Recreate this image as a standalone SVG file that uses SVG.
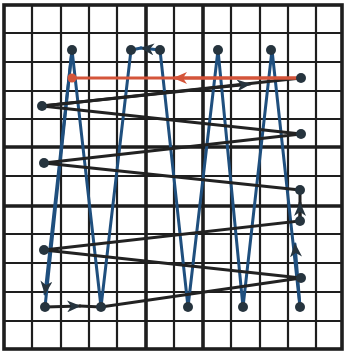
<svg xmlns="http://www.w3.org/2000/svg" width="346" height="351" viewBox="0 0 346 351">
<style>
.g{stroke:#1e1e1e;stroke-width:2.2;fill:none}
.gt{stroke:#1e1e1e;stroke-width:3.6;fill:none}
.bl{stroke:#1f4f7e;stroke-width:3;fill:none;stroke-linecap:round}
.bk{stroke:#222;stroke-width:3;fill:none;stroke-linecap:round}
.rd{stroke:#d4553a;stroke-width:2.8;fill:none}
.dot{fill:#26343e}
.rdot{fill:#d4553a}
</style>
<defs>
<marker id="ab" viewBox="0 0 14 12" refX="13" refY="6" markerWidth="14" markerHeight="12" markerUnits="userSpaceOnUse" orient="auto"><path d="M0,0 L14,6 L0,12 L4,6 z" fill="#26343e"/></marker>
<marker id="ar" viewBox="0 0 14 12" refX="13" refY="6" markerWidth="14" markerHeight="12" markerUnits="userSpaceOnUse" orient="auto"><path d="M0,0 L14,6 L0,12 L4,6 z" fill="#d4553a"/></marker>
</defs>
<rect width="346" height="351" fill="#fff"/>
<g id="grid">
<path class="g" d="M32,5V349M61,5V349M89,5V349M117,5V349M174,5V349M231,5V349M260,5V349M288,5V349M316,5V349"/>
<path class="g" d="M4,33H342M4,62H342M4,91H342M4,119H342M4,176H342M4,234H342M4,263H342M4,292H342M4,321H342"/>
<path class="gt" d="M146,5V349M203,5V349M4,147H342M4,206H342"/>
<rect class="gt" x="4" y="5" width="338" height="344"/>
</g>
<g id="connectors">
<path class="bl" d="M300,307L272,50L243,307L218,50L188,307L160,50"/>
<path class="bl" d="M300,307L295,244" marker-end="url(#ab)"/>
<path class="bl" d="M160,50L141,48" marker-end="url(#ab)"/>
<path class="bl" d="M141,48L131,50L101,307L72,50L45,307"/>
<path class="bl" d="M72,50L45,294" marker-end="url(#ab)"/>
<path class="bk" d="M45,307L80,306" marker-end="url(#ab)"/>
<path class="bk" d="M80,306L101,307L301,278L44,250L300,221L300,190"/>
<path class="bk" d="M300,221L300,203" marker-end="url(#ab)"/>
<path class="bk" d="M300,190L44,163L301,134L42,106L301,78"/>
<path class="bk" d="M42,106L250,84" marker-end="url(#ab)"/>
<path class="rd" d="M301,78L72,78"/>
<path class="rd" d="M301,78L174,78" marker-end="url(#ar)"/>
</g>
<g id="p1"><circle class="dot" cx="72" cy="50" r="5"/></g>
<g id="p2"><circle class="dot" cx="131" cy="50" r="5"/></g>
<g id="p3"><circle class="dot" cx="160" cy="50" r="5"/></g>
<g id="p4"><circle class="dot" cx="218" cy="50" r="5"/></g>
<g id="p5"><circle class="dot" cx="271" cy="50" r="5"/></g>
<g id="pr"><circle class="rdot" cx="72" cy="78" r="4.5"/></g>
<g id="q0"><circle class="dot" cx="301" cy="78" r="5"/></g>
<g id="q1"><circle class="dot" cx="42" cy="106" r="5"/></g>
<g id="q2"><circle class="dot" cx="301" cy="134" r="5"/></g>
<g id="q3"><circle class="dot" cx="44" cy="163" r="5"/></g>
<g id="q4"><circle class="dot" cx="300" cy="190" r="5"/></g>
<g id="q5"><circle class="dot" cx="300" cy="221" r="5"/></g>
<g id="q6"><circle class="dot" cx="44" cy="250" r="5"/></g>
<g id="q7"><circle class="dot" cx="301" cy="278" r="5"/></g>
<g id="b0"><circle class="dot" cx="45" cy="307" r="5"/></g>
<g id="b1"><circle class="dot" cx="101" cy="307" r="5"/></g>
<g id="b2"><circle class="dot" cx="188" cy="307" r="5"/></g>
<g id="b3"><circle class="dot" cx="243" cy="307" r="5"/></g>
<g id="b4"><circle class="dot" cx="300" cy="307" r="5"/></g>
</svg>
